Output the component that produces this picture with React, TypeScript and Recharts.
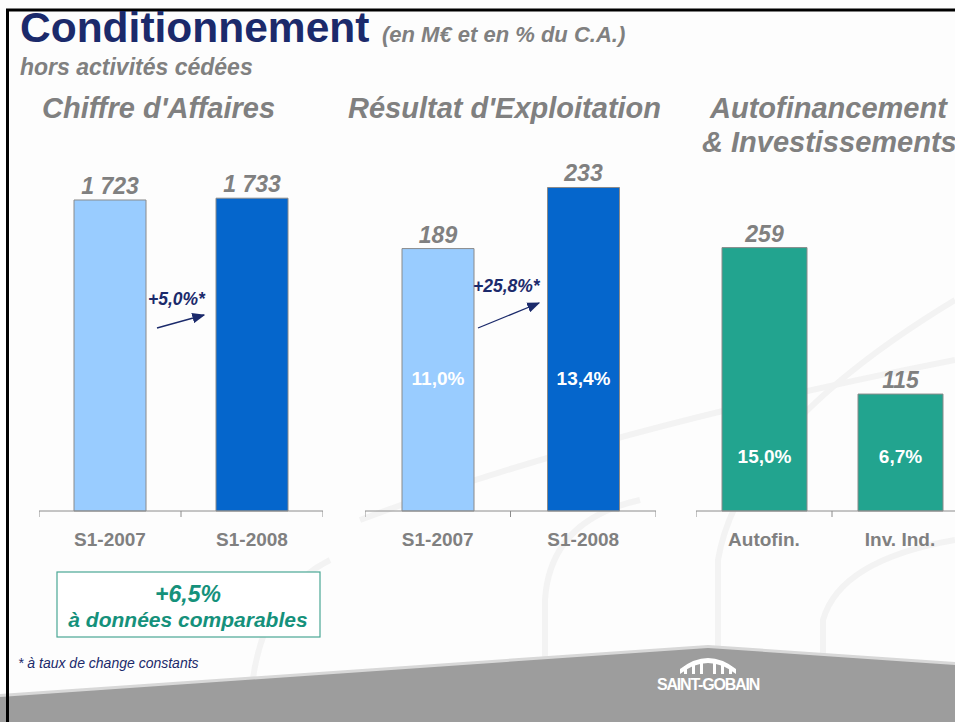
import { Bar, BarChart, Cell, LabelList, XAxis, YAxis } from "recharts";

const caCategories = ["S1-2007", "S1-2008"];
const caValues = [1723, 1733];
const reCategories = ["S1-2007", "S1-2008"];
const reValues = [189, 233];
const reMargins = ["11,0%", "13,4%"];
const afCategories = ["Autofin.", "Inv. Ind."];
const afValues = [259, 115];
const afRatios = ["15,0%", "6,7%"];
const growthLabels = ["+5,0%*", "+25,8%*"];

const FONT = '"Liberation Sans", Arial, Helvetica, sans-serif';
const GRAY = "#808080";
const NAVY = "#1b2a6b";
const TEAL_TEXT = "#15917b";
const LIGHT_BLUE = "#99ccff";
const DARK_BLUE = "#0566cc";
const TEAL = "#22a48f";

const CHART_TOP = 100;
const MARGIN_TOP = 50;
const PLOT_H = 361;
const AXIS_H = 60;

type Row = { name: string; value: number; pct?: string };

const fmt = (v: number) => String(v).replace(/\B(?=(\d{3})+(?!\d))/g, " ");

const ValueLabel = (props: any) => {
  const { x, y, width, value } = props;
  return (
    <text
      fill={GRAY}
      fontFamily={FONT}
      fontSize={23}
      fontStyle="italic"
      fontWeight="bold"
      textAnchor="middle"
      x={x + width / 2}
      y={y - 6}
    >
      {fmt(value)}
    </text>
  );
};

function Panel(props: {
  left: number;
  width: number;
  rows: Row[];
  colors: string[];
  domainMax: number;
  barSize: number;
  pctBaseline?: number;
}) {
  const { left, width, rows, colors, domainMax, barSize, pctBaseline } = props;
  const band = width / rows.length;
  const axisY = MARGIN_TOP + PLOT_H;

  const Tick = (p: any) => {
    const { x, index, payload } = p;
    const edge = x - band / 2;
    return (
      <g>
        <line stroke="#8c8c8c" x1={edge} x2={edge} y1={axisY} y2={axisY + 6} />
        {index === rows.length - 1 && (
          <line stroke="#8c8c8c" x1={edge + band} x2={edge + band} y1={axisY} y2={axisY + 6} />
        )}
        <text
          fill={GRAY}
          fontFamily={FONT}
          fontSize={19}
          fontWeight="bold"
          textAnchor="middle"
          x={x}
          y={axisY + 35}
        >
          {payload.value}
        </text>
      </g>
    );
  };

  const PctLabel = (p: any) => {
    const { x, y, width: w, height, value } = p;
    return (
      <text
        fill="#ffffff"
        fontFamily={FONT}
        fontSize={19}
        fontWeight="bold"
        textAnchor="middle"
        x={x + w / 2}
        y={y + height - (pctBaseline ?? 0)}
      >
        {value}
      </text>
    );
  };

  return (
    <div style={{ position: "absolute", left, top: CHART_TOP }}>
      <BarChart
        data={rows}
        height={MARGIN_TOP + PLOT_H + AXIS_H}
        margin={{ top: MARGIN_TOP, right: 0, bottom: 0, left: 0 }}
        width={width}
      >
        <YAxis domain={[0, domainMax]} hide type="number" />
        <XAxis
          axisLine={{ stroke: "#8c8c8c" }}
          dataKey="name"
          height={AXIS_H}
          interval={0}
          tick={Tick}
          tickLine={false}
        />
        <Bar
          barSize={barSize}
          dataKey="value"
          isAnimationActive={false}
          stroke="#8a8a8a"
          strokeWidth={1}
        >
          {rows.map((r, i) => (
            <Cell fill={colors[i]} key={r.name} />
          ))}
          <LabelList content={ValueLabel} dataKey="value" />
          {pctBaseline !== undefined && <LabelList content={PctLabel} dataKey="pct" />}
        </Bar>
      </BarChart>
    </div>
  );
}

export default function App() {
  const caRows: Row[] = caCategories.map((name, i) => ({ name, value: caValues[i] }));
  const reRows: Row[] = reCategories.map((name, i) => ({
    name,
    value: reValues[i],
    pct: reMargins[i],
  }));
  const afRows: Row[] = afCategories.map((name, i) => ({
    name,
    value: afValues[i],
    pct: afRatios[i],
  }));

  return (
    <div
      style={{
        position: "absolute",
        left: 0,
        top: 0,
        width: 955,
        height: 722,
        overflow: "hidden",
        background: "#fdfdfd",
        fontFamily: FONT,
      }}
    >
      {/* slide background */}
      <svg height={722} style={{ position: "absolute", left: 0, top: 0 }} width={955}>
        <g fill="none" stroke="#f3f3f3" strokeWidth={6}>
          <path d="M 250 722 Q 250 600 330 560" />
          <path d="M 545 700 L 545 600 Q 550 520 640 500" />
          <path d="M 718 700 L 718 560 Q 740 430 955 300" />
          <path d="M 823 700 L 823 620 Q 840 560 955 540" />
          <path d="M 360 520 Q 600 430 955 360" />
        </g>
        <polygon fill="#d8d8d8" points="0,694 708,645 955,662 955,722 0,722" />
        <polygon fill="#9d9d9d" points="0,697 708,648 955,665 955,722 0,722" />
        <line stroke="#000" strokeWidth={3} x1={7.5} x2={7.5} y1={9} y2={722} />
        <line stroke="#000" strokeWidth={3} x1={6} x2={955} y1={10} y2={10} />
      </svg>

      <Panel
        barSize={72}
        colors={[LIGHT_BLUE, DARK_BLUE]}
        domainMax={2000}
        left={39}
        rows={caRows}
        width={284}
      />
      <Panel
        barSize={72}
        colors={[LIGHT_BLUE, DARK_BLUE]}
        domainMax={260}
        left={365}
        pctBaseline={126}
        rows={reRows}
        width={291}
      />
      <Panel
        barSize={85}
        colors={[TEAL, TEAL]}
        domainMax={355}
        left={696}
        pctBaseline={48}
        rows={afRows}
        width={272}
      />

      {/* titles and annotations */}
      <svg height={722} style={{ position: "absolute", left: 0, top: 0, pointerEvents: "none" }} width={955}>
        <defs>
          <marker id="arr" markerHeight={8} markerWidth={10} orient="auto" refX={9} refY={4}>
            <path d="M0,0 L10,4 L0,8 Z" fill={NAVY} />
          </marker>
        </defs>
        <text fill={NAVY} fontFamily={FONT} fontSize={42.5} fontWeight="bold" x={20} y={42}>
          Conditionnement
        </text>
        <text fill={GRAY} fontFamily={FONT} fontSize={22} fontStyle="italic" fontWeight="bold" x={382} y={42}>
          (en M€ et en % du C.A.)
        </text>
        <text fill={GRAY} fontFamily={FONT} fontSize={23} fontStyle="italic" fontWeight="bold" x={20} y={75}>
          hors activités cédées
        </text>
        <g fill={GRAY} fontFamily={FONT} fontSize={29} fontStyle="italic" fontWeight="bold">
          <text x={42} y={118}>Chiffre d'Affaires</text>
          <text x={348} y={118}>Résultat d'Exploitation</text>
          <text x={710} y={118}>Autofinancement</text>
          <text x={702} y={152}>&amp; Investissements</text>
        </g>

        <g fill={NAVY} fontFamily={FONT} fontSize={17.5} fontStyle="italic" fontWeight="bold">
          <text x={148} y={305}>{growthLabels[0]}</text>
          <text x={473} y={292}>{growthLabels[1]}</text>
        </g>
        <line markerEnd="url(#arr)" stroke={NAVY} strokeWidth={1.3} x1={157} x2={204} y1={328} y2={315} />
        <line markerEnd="url(#arr)" stroke={NAVY} strokeWidth={1.3} x1={478} x2={539} y1={328} y2={303} />

        <rect fill="#ffffff" height={65} stroke="#4aa795" strokeWidth={1.2} width={263} x={57} y={572} />
        <g fill={TEAL_TEXT} fontFamily={FONT} fontStyle="italic" fontWeight="bold" textAnchor="middle">
          <text fontSize={23} x={188} y={602}>+6,5%</text>
          <text fontSize={21} x={188} y={627}>à données comparables</text>
        </g>
        <text fill={NAVY} fontFamily={FONT} fontSize={14} fontStyle="italic" x={18} y={668}>
          * à taux de change constants
        </text>

        {/* logo */}
        <g fill="#ffffff">
          <path d="M 680 674 Q 708 652 736 674 L 736 669 Q 708 647 680 669 Z" />
          <rect height={8} width={3} x={684} y={666} />
          <rect height={10} width={3} x={692} y={664} />
          <rect height={11} width={3} x={700} y={663} />
          <rect height={11} width={3} x={713} y={663} />
          <rect height={10} width={3} x={721} y={664} />
          <rect height={8} width={3} x={729} y={666} />
        </g>
        <text
          fill="#ffffff"
          fontFamily={FONT}
          fontSize={16}
          fontWeight="bold"
          letterSpacing={-1.2}
          textAnchor="middle"
          x={708}
          y={690}
        >
          SAINT-GOBAIN
        </text>
      </svg>
    </div>
  );
}
